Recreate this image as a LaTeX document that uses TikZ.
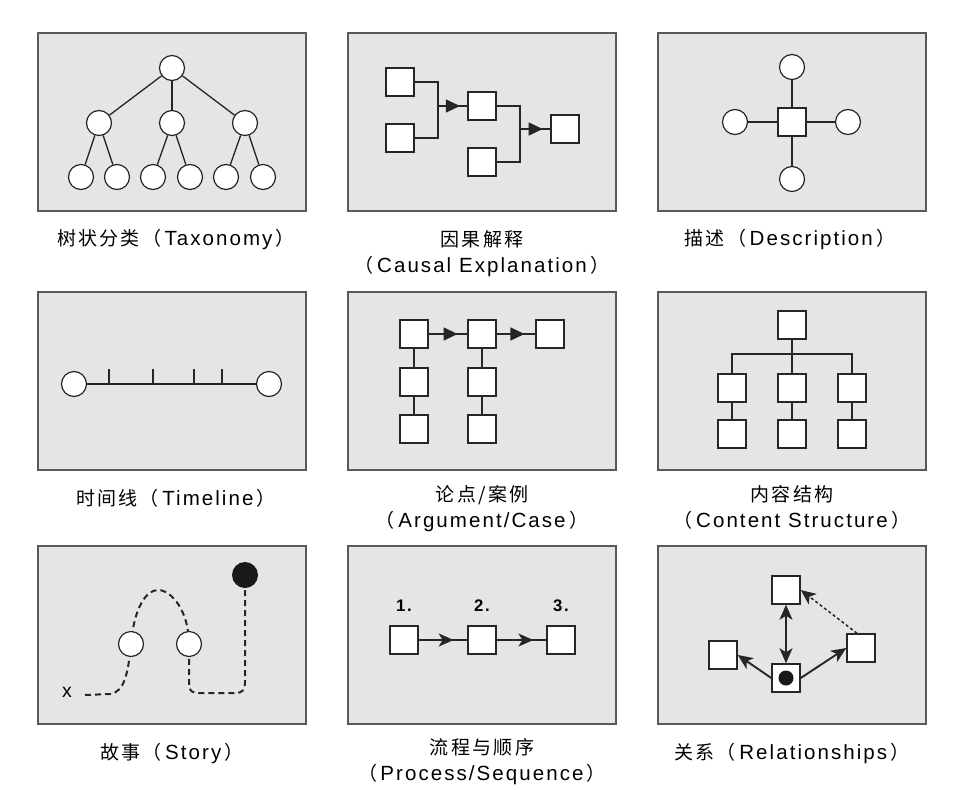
\documentclass[tikz,border=0pt]{standalone}
\usepackage{fontspec}
\setmainfont{Liberation Sans}[LetterSpace=10, Scale=1.08]
\newfontfamily\cjk{Noto Sans CJK SC}[LetterSpace=12]
\newcommand\zh[1]{{\cjk #1}}
\usetikzlibrary{arrows.meta,decorations.markings}

\tikzset{
  panel/.style={draw=black!65, fill=black!10, line width=1.3pt, minimum width=268pt, minimum height=178pt, inner sep=0pt},
  ring/.style={circle, draw=black!85, fill=white, line width=1.2pt, minimum size=25pt, inner sep=0pt},
  sq/.style={draw=black!85, fill=white, line width=1.5pt, minimum size=28pt, inner sep=0pt},
  link/.style={draw=black!85, line width=1.3pt},
  midarrow/.style={link, postaction={decorate}, decoration={markings, mark=at position #1 with {\arrow{Triangle[length=14pt,width=13pt]}}}},
  midstealth/.style={link, postaction={decorate}, decoration={markings, mark=at position #1 with {\arrow{Stealth[length=15pt,width=13pt,inset=4pt]}}}},
  rel/.style={draw=black!85, line width=1.9pt, >={Stealth[length=15pt,width=13pt,inset=4pt]}},
  trail/.style={draw=black!85, line width=2pt, dash pattern=on 6pt off 4pt},
  captext/.style={anchor=base, align=center, font=\fontsize{19}{26}\selectfont},
  num/.style={font=\fontsize{15.5}{16}\selectfont\bfseries, inner sep=0pt}
}

\begin{document}
\begin{tikzpicture}[x=1pt, y=-1pt]
\useasboundingbox (0,0) rectangle (958,790);
\foreach \c/\x in {1/172,2/482,3/792}
  \foreach \r/\y in {1/122,2/381,3/635}
    \node[panel] (p\r\c) at (\x,\y) {};

% taxonomy
\node[ring] (tr) at (172,68) {};
\foreach \i/\x in {1/99,2/172,3/245} \node[ring] (tm\i) at (\x,123) {};
\foreach \i/\x in {1/81,2/117,3/153,4/190,5/226,6/263} \node[ring] (tl\i) at (\x,177) {};
\foreach \i in {1,2,3} \draw[link] (tr) -- (tm\i);
\draw[link] (tm1) -- (tl1) (tm1) -- (tl2) (tm2) -- (tl3) (tm2) -- (tl4) (tm3) -- (tl5) (tm3) -- (tl6);
\node[captext] (c11) at (176,245) {\zh{树状分类（}\,Taxonomy\,\zh{）}};

% causal explanation
\node[sq] (ca) at (400,82) {};
\node[sq] (cb) at (400,138) {};
\node[sq] (cc) at (482,106) {};
\node[sq] (cd) at (482,162) {};
\node[sq] (ce) at (565,129) {};
\coordinate (cj) at (438,106);
\coordinate (ck) at (520,129);
\draw[link] (ca) -| (cj) |- (cb);
\draw[link] (cc) -| (ck) |- (cd);
\draw[midarrow=0.75] (cj) -- (cc);
\draw[midarrow=0.75] (ck) -- (ce);
\node[captext] (c12) at (482,272) {\zh{因果解释}\\\zh{（}\,Causal Explanation\,\zh{）}};

% description
\node[sq] (dc) at (792,122) {};
\node[ring] (dn) at (792,67) {};
\node[ring] (ds) at (792,179) {};
\node[ring] (dw) at (735,122) {};
\node[ring] (de) at (848,122) {};
\foreach \n in {dn,ds,dw,de} \draw[link] (dc) -- (\n);
\node[captext] (c13) at (790,245) {\zh{描述（}\,Description\,\zh{）}};

% timeline
\node[ring] (ls) at (74,384) {};
\node[ring] (le) at (269,384) {};
\draw[link, line width=1.9pt] (ls) -- (le);
\foreach \x in {109,153,194,222} \draw[link, line width=1.6pt] (\x,384) -- ++(0,-15);
\node[captext] (c21) at (176,505) {\zh{时间线（}\,Timeline\,\zh{）}};

% argument / case
\node[sq] (a1) at (414,334) {};
\node[sq] (a2) at (482,334) {};
\node[sq] (a3) at (550,334) {};
\node[sq] (a4) at (414,382) {};
\node[sq] (a5) at (414,429) {};
\node[sq] (a6) at (482,382) {};
\node[sq] (a7) at (482,429) {};
\draw[midarrow=0.75] (a1) -- (a2);
\draw[midarrow=0.72] (a2) -- (a3);
\draw[link] (a1) -- (a4) -- (a5) (a2) -- (a6) -- (a7);
\node[captext] (c22) at (482,527) {\zh{论点/案例}\\\zh{（}\,Argument/Case\,\zh{）}};

% content structure
\node[sq] (s0) at (792,325) {};
\foreach \i/\x in {1/732,2/792,3/852} {
  \node[sq] (s\i) at (\x,388) {};
  \node[sq] (t\i) at (\x,434) {};
  \draw[link, line width=1.9pt] (s\i) -- (t\i);
}
\coordinate (sb) at (792,354);
\draw[link, line width=1.9pt] (s1) |- (sb) -| (s3) (s0) -- (s2);
\node[captext] (c23) at (792,527) {\zh{内容结构}\\\zh{（}\,Content Structure\,\zh{）}};

% story
\node[font=\fontsize{18}{18}\selectfont, inner sep=0pt] (sx) at (67,692) {x};
\coordinate (st) at (85,695);
\coordinate (so1) at (131,644);
\coordinate (so2) at (189,644);
\coordinate (sk) at (245,575);
\draw[trail] (st) -- (110,694) .. controls (124,692) and (128,675) .. (so1)
  .. controls (134,608) and (146,590) .. (158,590) .. controls (172,590) and (189,612) .. (so2)
  -- (189,684) .. controls (189,691) and (192,693) .. (199,693) -- (236,693)
  .. controls (242,693) and (245,690) .. (245,682) -- (sk);
\node[ring] (o1) at (so1) {};
\node[ring] (o2) at (so2) {};
\node[circle, fill=black!90, minimum size=26pt, inner sep=0pt] (ok) at (sk) {};
\node[captext] (c31) at (172,759) {\zh{故事（}\,Story\,\zh{）}};

% process / sequence
\foreach \i/\x in {1/404,2/482,3/561} {
  \node[sq] (q\i) at (\x,640) {};
  \node[num] (n\i) at (\x,606) {\i.};
}
\draw[midstealth=0.72] (q1) -- (q2);
\draw[midstealth=0.74] (q2) -- (q3);
\node[captext] (c32) at (482,780) {\zh{流程与顺序}\\\zh{（}\,Process/Sequence\,\zh{）}};

% relationships
\node[sq] (rt) at (786,590) {};
\node[sq] (rr) at (861,648) {};
\node[sq] (rl) at (723,655) {};
\node[sq] (rb) at (786,678) {};
\fill[black!90] (rb.center) circle (7.5pt);
\draw[rel, <->] (rb) -- (rt);
\draw[rel, ->] (rb.west) -- (rl.east);
\draw[rel, ->] (rb.east) -- (rr.west);
\draw[rel, line width=1.5pt, dash pattern=on 3pt off 2.5pt, ->] ([xshift=-4pt]rr.north) -- (rt.east);
\node[captext] (c33) at (792,759) {\zh{关系（}\,Relationships\,\zh{）}};
\end{tikzpicture}
\end{document}
